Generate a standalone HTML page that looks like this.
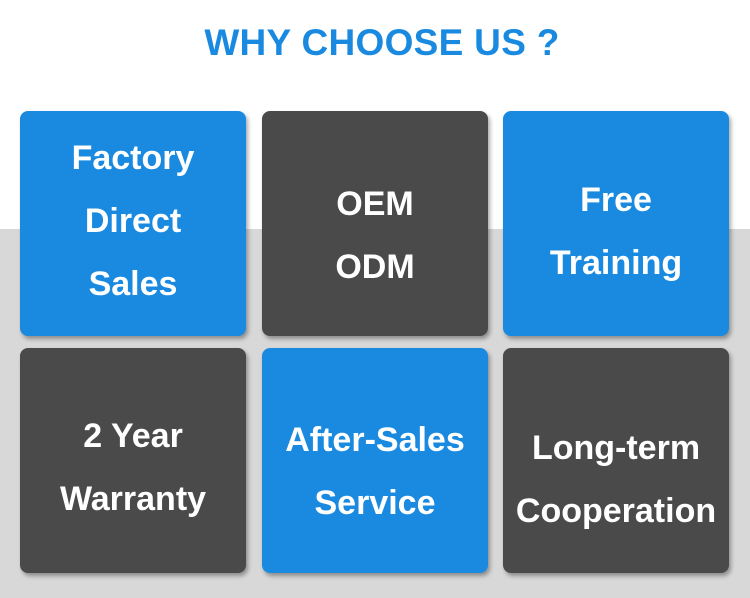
<!DOCTYPE html>
<html><head><style>
body{margin:0;width:750px;height:598px;overflow:hidden;background:#fff;font-family:"Liberation Sans",sans-serif;position:relative}
.gray{position:absolute;left:0;top:229px;width:750px;height:369px;background:#d8d8d8}
h1{position:absolute;top:22px;left:7px;width:750px;text-align:center;margin:0;font-size:37px;font-weight:bold;color:#1a8ae0;letter-spacing:0.3px}
.b{position:absolute;width:226px;height:225px;border-radius:8px;color:#fff;font-weight:bold;font-size:34px;line-height:63px;box-shadow:2px 3px 4px rgba(0,0,0,0.35)}
.b .t{position:absolute;left:0;width:226px;text-align:center;white-space:nowrap}
.bl{background:#1a8ae0}
.dk{background:#4a4a4a}
</style></head><body>
<div class="gray"></div>
<h1>WHY CHOOSE US ?</h1>
<div class="b bl" style="left:20px;top:111px"><div class="t" style="top:16px">Factory<br>Direct<br>Sales</div></div>
<div class="b dk" style="left:262px;top:111px"><div class="t" style="top:62px">OEM<br>ODM</div></div>
<div class="b bl" style="left:503px;top:111px"><div class="t" style="top:58px">Free<br>Training</div></div>
<div class="b dk" style="left:20px;top:348px"><div class="t" style="top:57px">2 Year<br>Warranty</div></div>
<div class="b bl" style="left:262px;top:348px"><div class="t" style="top:61px">After-Sales<br>Service</div></div>
<div class="b dk" style="left:503px;top:348px"><div class="t" style="top:69px">Long-term<br>Cooperation</div></div>
</body></html>
